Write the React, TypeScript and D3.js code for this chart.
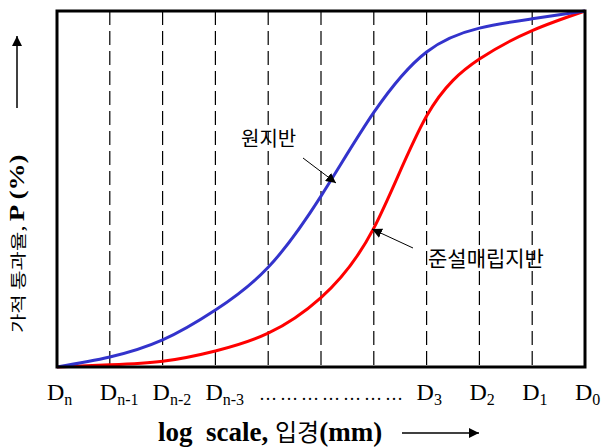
import React, { useEffect, useRef } from "react";
import * as d3 from "d3";

// grain size classes, left (finest) to right (coarsest)
const classIndex = [0, 1, 2, 3, 4, 5, 6, 7, 8, 9, 10];
const tickLabels = [
  { i: 0, sub: "n" },
  { i: 1, sub: "n-1" },
  { i: 2, sub: "n-2" },
  { i: 3, sub: "n-3" },
  { i: 7, sub: "3" },
  { i: 8, sub: "2" },
  { i: 9, sub: "1" },
  { i: 10, sub: "0" },
];
// cumulative passing (%)
const originalGround = [0, 2.8, 7.6, 16, 28, 48, 71.5, 88.5, 95.2, 97.8, 100];
const dredgedFill = [0, 0.6, 1.6, 4.5, 9.5, 19.5, 39, 70.5, 86.5, 94.5, 100];

const SERIF = "'Liberation Serif', 'Times New Roman', serif";
const KOR = "'Noto Sans CJK KR', sans-serif";

const App = () => {
  const svgRef = useRef<SVGSVGElement>(null);

  useEffect(() => {
    const svg = d3.select(svgRef.current);
    svg.selectAll("*").remove();

    const left = 57, right = 585, top = 11, bottom = 367;
    const x = d3.scaleLinear().domain([0, 10]).range([left, right]);
    const y = d3.scaleLinear().domain([0, 100]).range([bottom, top]);

    const defs = svg.append("defs");
    defs.append("marker")
      .attr("id", "head")
      .attr("viewBox", "0 0 10 10")
      .attr("refX", 10)
      .attr("refY", 5)
      .attr("markerWidth", 10)
      .attr("markerHeight", 10)
      .attr("markerUnits", "userSpaceOnUse")
      .attr("orient", "auto")
      .append("path")
      .attr("d", "M0,0 L10,5 L0,10 Z")
      .attr("fill", "#000");

    // dashed class boundaries
    svg.append("g")
      .selectAll("line")
      .data(classIndex.slice(1, -1))
      .enter()
      .append("line")
      .attr("x1", d => x(d))
      .attr("x2", d => x(d))
      .attr("y1", top)
      .attr("y2", bottom)
      .attr("stroke", "#000")
      .attr("stroke-width", 1.2)
      .attr("stroke-dasharray", "14,6");

    const line = d3.line<number>()
      .x((d, i) => x(classIndex[i]))
      .y(d => y(d))
      .curve(d3.curveNatural);

    svg.append("path")
      .datum(dredgedFill)
      .attr("d", line)
      .attr("fill", "none")
      .attr("stroke", "#ff0000")
      .attr("stroke-width", 3);

    svg.append("path")
      .datum(originalGround)
      .attr("d", line)
      .attr("fill", "none")
      .attr("stroke", "#3333cc")
      .attr("stroke-width", 3);

    // frame
    svg.append("rect")
      .attr("x", left)
      .attr("y", top)
      .attr("width", right - left)
      .attr("height", bottom - top)
      .attr("fill", "none")
      .attr("stroke", "#000")
      .attr("stroke-width", 3);

    // x tick labels
    const ticks = svg.append("g").attr("font-family", SERIF).attr("fill", "#000");
    tickLabels.forEach(t => {
      const txt = ticks.append("text")
        .attr("x", x(t.i) - 10)
        .attr("y", 400)
        .attr("font-size", 24);
      txt.append("tspan").text("D");
      txt.append("tspan")
        .attr("font-size", 16)
        .attr("dy", 5)
        .text(t.sub);
    });
    ticks.selectAll(".dots")
      .data(d3.range(7))
      .enter()
      .append("text")
      .attr("class", "dots")
      .attr("x", d => 259 + d * 21)
      .attr("y", 400)
      .attr("font-size", 18)
      .text("…");

    // x title
    const xt = svg.append("text")
      .attr("x", 158)
      .attr("y", 441)
      .attr("fill", "#000");
    xt.append("tspan")
      .attr("font-family", SERIF)
      .attr("font-weight", "bold")
      .attr("font-size", 27)
      .attr("xml:space", "preserve")
      .text("log  scale, ");
    xt.append("tspan")
      .attr("font-family", KOR)
      .attr("font-size", 24)
      .text("입경");
    xt.append("tspan")
      .attr("font-family", SERIF)
      .attr("font-weight", "bold")
      .attr("font-size", 27)
      .text("(mm)");
    svg.append("line")
      .attr("x1", 402).attr("y1", 433)
      .attr("x2", 479).attr("y2", 433)
      .attr("stroke", "#000")
      .attr("stroke-width", 1.5)
      .attr("marker-end", "url(#head)");

    // y title (glyphs look squashed across the text direction)
    const yt = svg.append("text")
      .attr("transform", "translate(24,333) rotate(-90) scale(1,0.75)")
      .attr("fill", "#000");
    yt.append("tspan")
      .attr("font-family", KOR)
      .attr("font-size", 21)
      .text("가적 통과율, ");
    yt.append("tspan")
      .attr("font-family", SERIF)
      .attr("font-weight", "bold")
      .attr("font-size", 27)
      .text("P (%)");
    svg.append("line")
      .attr("x1", 17).attr("y1", 108)
      .attr("x2", 17).attr("y2", 36)
      .attr("stroke", "#000")
      .attr("stroke-width", 1.5)
      .attr("marker-end", "url(#head)");

    // curve annotations
    svg.append("text")
      .attr("x", 241)
      .attr("y", 146)
      .attr("font-family", KOR)
      .attr("font-size", 20)
      .text("원지반");
    svg.append("line")
      .attr("x1", 303).attr("y1", 158)
      .attr("x2", 336).attr("y2", 183)
      .attr("stroke", "#000")
      .attr("stroke-width", 1)
      .attr("marker-end", "url(#head)");

    svg.append("text")
      .attr("x", 428)
      .attr("y", 266)
      .attr("font-family", KOR)
      .attr("font-size", 21)
      .text("준설매립지반");
    svg.append("line")
      .attr("x1", 413).attr("y1", 248)
      .attr("x2", 372).attr("y2", 229)
      .attr("stroke", "#000")
      .attr("stroke-width", 1)
      .attr("marker-end", "url(#head)");
  }, []);

  return (
    <svg
      ref={svgRef}
      width={602}
      height={448}
      style={{ position: "absolute", left: 0, top: 0, background: "#fff" }}
    />
  );
};

export default App;
